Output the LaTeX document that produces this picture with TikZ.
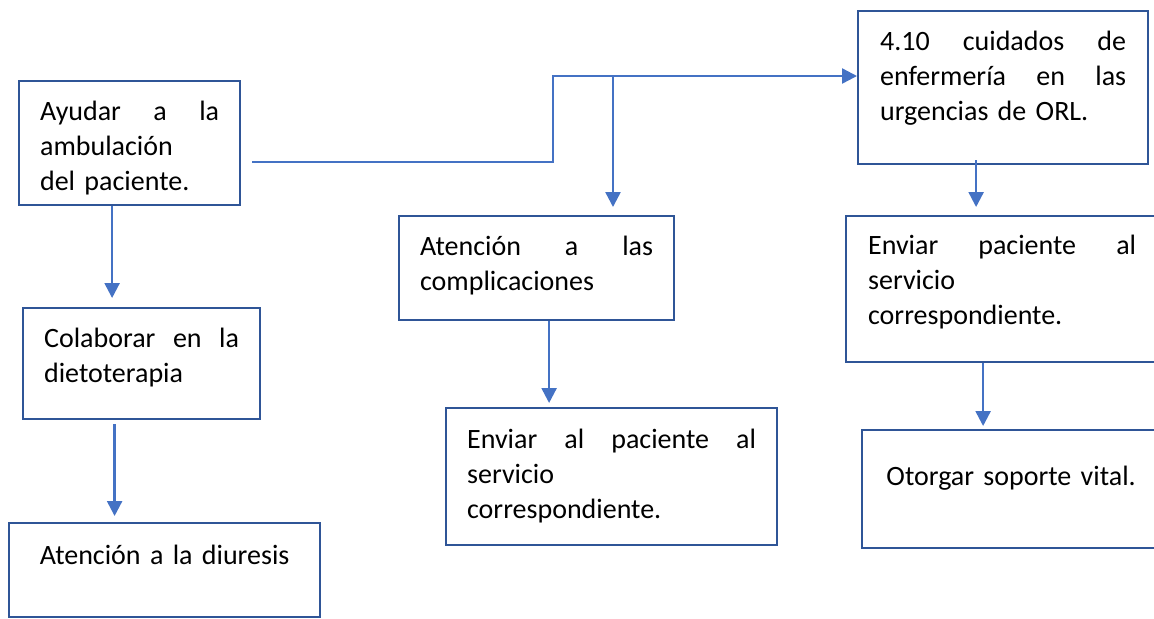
\documentclass[tikz,border=0pt]{standalone}
\usepackage{fontspec}
\setmainfont{Carlito}
\usepackage{tikz}
\usetikzlibrary{arrows.meta}

\definecolor{boxblue}{RGB}{47,85,151}
\definecolor{linkblue}{RGB}{68,114,196}

\begin{document}
\begin{tikzpicture}[
    x=0.5pt, y=-0.5pt,
    box/.style={draw=boxblue, line width=1.1pt, anchor=north west, inner ysep=0pt,
      inner xsep=10.5pt, align=left, font=\fontsize{14pt}{17.5pt}\selectfont},
    link/.style={draw=linkblue, line width=1.2pt},
    arr/.style={link, -{Triangle[length=7.5pt, width=7.5pt]}}
  ]

  \useasboundingbox (0,0) rectangle (1154,618);

  % Nodos
  \node[box, text width=89.5pt, text height=19.5pt, text depth=42.5pt] (ayudar) at (18,80)
    {Ayudar\hfill a\hfill la\\ambulación\\del paciente.};
  \node[box, text width=97.5pt, text height=19.5pt, text depth=36pt] (colaborar) at (22,307)
    {Colaborar\hfill en\hfill la\\dietoterapia};
  \node[box, align=center, text width=134.5pt, text height=20.5pt, text depth=26.5pt] (diuresis) at (8,522)
    {Atención a la diuresis};
  \node[box, text width=116.5pt, text height=19.5pt, text depth=32.5pt] (complic) at (398,215)
    {Atención\hfill a\hfill las\\complicaciones};
  \node[box, text width=144.5pt, text height=20pt, text depth=48.5pt] (enviar1) at (445,407)
    {Enviar\hfill al\hfill paciente\hfill al\\servicio\\correspondiente.};
  \node[box, inner xsep=11pt, text width=123pt, text height=19.5pt, text depth=57pt] (orl) at (857,10)
    {4.10\hfill cuidados\hfill de\\enfermería\hfill en\hfill las\\urgencias de ORL.};
  \node[box, inner xsep=11pt, text width=134pt, text height=19pt, text depth=54pt] (enviar2) at (845,215)
    {Enviar\hfill paciente\hfill al\\servicio\\correspondiente.};
  \node[box, align=center, inner xsep=11pt, text width=127pt, text height=27.5pt, text depth=31.5pt] (soporte) at (861,429)
    {Otorgar soporte vital.};

  % Conectores
  \coordinate (bend) at (553,76);
  \coordinate (split) at (613,76);

  \draw[arr] ([xshift=5.5pt,yshift=-9.5pt]ayudar.east) -| (bend) -- (orl.west |- bend);
  \draw[arr] (split) -- (complic.north -| split) [shorten >=4pt];
  \draw[arr, shorten >=4.5pt] ([xshift=-8.75pt]ayudar.south) -- ([xshift=-8.75pt]ayudar.south |- colaborar.north);
  \draw[arr, shorten <=2pt, shorten >=3pt] ([xshift=-13.5pt]colaborar.south) -- ([xshift=-13.5pt]colaborar.south |- diuresis.north);
  \draw[arr, shorten >=2pt] ([xshift=6.25pt]complic.south) -- ([xshift=6.25pt]complic.south |- enviar1.north);
  \draw[arr, shorten <=-2.5pt, shorten >=4pt] ([xshift=-13.5pt]orl.south) -- ([xshift=-13.5pt]orl.south |- enviar2.north);
  \draw[arr, shorten >=1.5pt] ([xshift=-9.5pt]enviar2.south) -- ([xshift=-9.5pt]enviar2.south |- soporte.north);

\end{tikzpicture}
\end{document}
